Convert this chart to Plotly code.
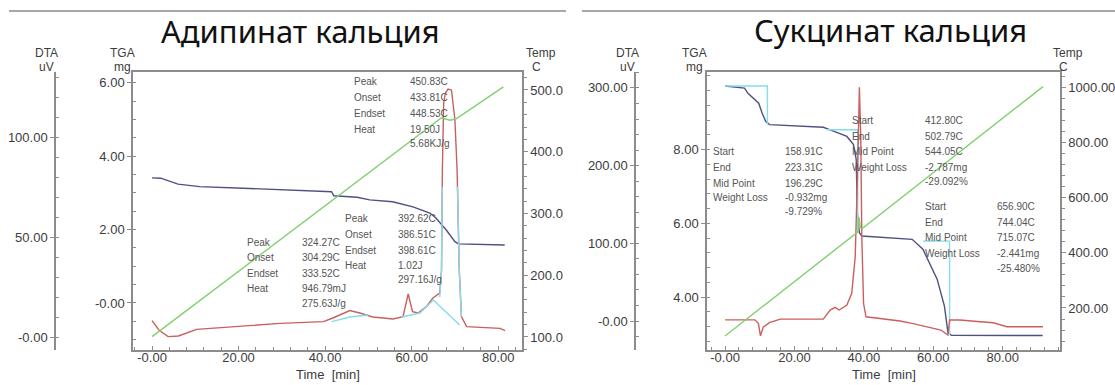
import plotly.graph_objects as go

W, H = 1115, 385

# ---------------- Calcium adipate (left panel) ----------------
adip_time_tga = [0, 2, 6, 11, 22.6, 41.5, 42, 47.4, 50.3, 55.6, 60.3, 64.2, 65.5, 68, 70, 70.8, 81.5]
adip_tga_mg = [3.41, 3.40, 3.24, 3.17, 3.12, 3.03, 2.92, 2.88, 2.81, 2.76, 2.62, 2.45, 2.33, 1.99, 1.67, 1.61, 1.58]

adip_time_dta = [0, 1.6, 3.7, 6.1, 10.3, 18.5, 29.6, 39.6, 41.8, 45.7, 48, 51, 55.7, 58, 59.2, 60.2,
                 61.5, 63.4, 64.9, 66.5, 66.9, 67.1, 67.4, 67.8, 68.4, 69.2, 70, 70.5, 71, 71.5, 72.7, 80.4, 81.6]
adip_dta_uv = [8.2, 3.5, 0.2, 0.5, 3.8, 5.2, 6.8, 7.7, 9.5, 13.2, 12, 10, 9, 10.2, 21.5, 12.7,
               12, 15.2, 19.5, 22, 33.5, 83.5, 117, 122, 124, 123.5, 108.5, 83.5, 33.5, 10.2, 5.2, 4.3, 3.2]

adip_time_temp = [0, 66.9, 68.8, 70.2, 81.2]
adip_temp_c = [100.5, 455, 451, 453, 505]

# peak integration baselines / peak flanks
adip_time_base = [41.5, 45.7, 50.0, None, 57.7, 61.9, 65.0, 71.1, None, 66.5, 66.9, 67.05, None, 70.6, 71.0, 71.5]
adip_base_uv = [7.7, 10.0, 11.0, None, 10.0, 12.0, 18.5, 6.0, None, 20, 33.5, 75, None, 75, 33.5, 10.2]

# ---------------- Calcium succinate (right panel) ----------------
succ_time_tga = [0, 5.6, 6.6, 9.7, 10.7, 11.7, 12.8, 16.9, 23, 28.3, 30.3, 35.1, 37, 37.8, 38.1, 38.7,
                 39.4, 50.4, 53.9, 57, 61.1, 63.2, 64.2, 65.2, 91.5]
succ_tga_mg = [9.73, 9.67, 9.53, 9.26, 8.99, 8.77, 8.68, 8.66, 8.64, 8.61, 8.54, 8.36, 8.14, 7.73, 6.29, 5.75,
               5.66, 5.60, 5.57, 5.30, 4.49, 3.76, 3.05, 2.97, 2.96]

succ_time_step = [0, 12.2, 12.2, None, 29.3, 38.2, 38.2, None, 57, 64.7, 64.7]
succ_step_mg = [9.73, 9.73, 8.68, None, 8.54, 8.54, 5.76, None, 5.52, 5.52, 2.97]

succ_time_dta = [0, 8.6, 9.6, 10.2, 11, 12.8, 15.9, 28.3, 30.3, 31.7, 32.9, 35.1, 36.5, 37.5, 38.2, 38.6,
                 38.7, 39.1, 39.4, 39.9, 40.6, 50.4, 53.9, 62.2, 64.2, 64.7, 67.7, 73.5, 77.3, 81.2, 91.6]
succ_dta_uv = [1.5, 1.5, -3, -19, -8, -2, 2.5, 2.5, 14, 17.6, 14.2, 20.6, 35.6, 82.8, 194, 297,
               301, 237, 108.5, 22.8, 5.5, 0, -3, -11.6, -18, 1.3, 1.3, -0.9, -2.2, -7.3, -7.3]

succ_time_temp = [0, 38.3, 38.6, 39.0, 39.6, 91.6]
succ_temp_c = [98.6, 476, 528, 490, 489, 1002]

# ---------------- tick labels ----------------
time_ticks = [0, 20, 40, 60, 80]
time_ticktext = ["-0.00", "20.00", "40.00", "60.00", "80.00"]
adip_tga_ticks = [0, 2, 4, 6]
adip_tga_ticktext = ["-0.00", "2.00", "4.00", "6.00"]
adip_dta_ticks = [0, 50, 100]
adip_dta_ticktext = ["-0.00", "50.00", "100.00"]
adip_temp_ticks = [100, 200, 300, 400, 500]
adip_temp_ticktext = ["100.0", "200.0", "300.0", "400.0", "500.0"]
succ_tga_ticks = [4, 6, 8]
succ_tga_ticktext = ["4.00", "6.00", "8.00"]
succ_dta_ticks = [0, 100, 200, 300]
succ_dta_ticktext = ["-0.00", "100.00", "200.00", "300.00"]
succ_temp_ticks = [200, 400, 600, 800, 1000]
succ_temp_ticktext = ["200.00", "400.00", "600.00", "800.00", "1000.00"]

# ---------------- result tables ----------------
adip_block_a = (["Peak", "Onset", "Endset", "Heat", ""], ["450.83C", "433.81C", "448.53C", "19.50J", "5.68KJ/g"])
adip_block_b = (["Peak", "Onset", "Endset", "Heat", ""], ["392.62C", "386.51C", "398.61C", "1.02J", "297.16J/g"])
adip_block_c = (["Peak", "Onset", "Endset", "Heat", ""], ["324.27C", "304.29C", "333.52C", "946.79mJ", "275.63J/g"])
succ_block_1 = (["Start", "End", "Mid Point", "Weight Loss", ""], ["158.91C", "223.31C", "196.29C", "-0.932mg", "-9.729%"])
succ_block_2 = (["Start", "End", "Mid Point", "Weight Loss", ""], ["412.80C", "502.79C", "544.05C", "-2.787mg", "-29.092%"])
succ_block_3 = (["Start", "End", "Mid Point", "Weight Loss", ""], ["656.90C", "744.04C", "715.07C", "-2.441mg", "-25.480%"])

# ---------------- styling ----------------
FONT = "Arial, Liberation Sans, sans-serif"
AX = "#8c8c8c"
TXT = "#3c3c3c"
C_TGA = "#4d5082"
C_DTA = "#c9605e"
C_TEMP = "#80d070"
C_BASE = "#86dcea"


def px(x):
    return x / W


def py(y):
    return 1 - y / H


fig = go.Figure()


def line(x, y, xa, ya, color, width=1.4):
    fig.add_trace(go.Scatter(x=x, y=y, xaxis=xa, yaxis=ya, mode="lines",
                             line=dict(color=color, width=width), connectgaps=False,
                             hoverinfo="skip", showlegend=False))


# left panel traces
line(adip_time_tga, adip_tga_mg, "x", "y", C_TGA)
line(adip_time_dta, adip_dta_uv, "x", "y2", C_DTA)
line(adip_time_base, adip_base_uv, "x", "y2", C_BASE)
line(adip_time_temp, adip_temp_c, "x", "y3", C_TEMP)

# right panel traces
line(succ_time_tga, succ_tga_mg, "x2", "y4", C_TGA)
line(succ_time_step, succ_step_mg, "x2", "y4", C_BASE)
line(succ_time_dta, succ_dta_uv, "x2", "y5", C_DTA)
line(succ_time_temp, succ_temp_c, "x2", "y6", C_TEMP)

tickfont = dict(family=FONT, size=13, color=TXT)
Y_DOM = [py(350), py(72)]


def axis(**kw):
    base = dict(showline=True, linecolor=AX, linewidth=1.5, ticks="outside", ticklen=4,
                tickcolor=AX, tickwidth=1.2, tickfont=tickfont, showgrid=False,
                zeroline=False, tickmode="array", fixedrange=True)
    base.update(kw)
    return base


def minor(dtick, tick0=0, ticks="outside", ticklen=3):
    return dict(tickmode="linear", tick0=tick0, dtick=dtick, ticks=ticks, ticklen=ticklen,
                tickcolor=AX, tickwidth=1, showgrid=False)


fig.update_layout(
    width=W, height=H, margin=dict(l=0, r=0, t=0, b=0),
    paper_bgcolor="white", plot_bgcolor="white",
    # ----- left panel axes -----
    xaxis=axis(domain=[px(133), px(522)], range=[-4.4, 85.5], anchor="y", mirror=True,
               ticks="inside", ticklabelstandoff=-5, tickvals=time_ticks, ticktext=time_ticktext,
               minor=minor(4, ticks="inside")),
    yaxis=axis(domain=Y_DOM, range=[-1.281, 6.294], anchor="x", side="left",
               tickvals=adip_tga_ticks, ticktext=adip_tga_ticktext,
               minor=minor(0.5, ticks="inside")),
    yaxis2=axis(domain=Y_DOM, range=[-6.5, 132.5], overlaying="y", anchor="free",
                position=px(55), side="left", tickvals=adip_dta_ticks,
                ticktext=adip_dta_ticktext, minor=minor(10, ticks="inside")),
    yaxis3=axis(domain=Y_DOM, range=[78.9, 529.1], overlaying="y", anchor="x", side="right",
                tickvals=adip_temp_ticks, ticktext=adip_temp_ticktext, minor=minor(20)),
    # ----- right panel axes -----
    xaxis2=axis(domain=[px(707), px(1060)], range=[-5.2, 96.5], anchor="y4", mirror=True,
                ticks="inside", ticklabelstandoff=-5, tickvals=time_ticks, ticktext=time_ticktext,
                minor=minor(4, ticks="inside")),
    yaxis4=axis(domain=Y_DOM, range=[2.568, 10.108], anchor="x2", side="left",
                tickvals=succ_tga_ticks, ticktext=succ_tga_ticktext,
                minor=minor(0.4, ticks="inside")),
    yaxis5=axis(domain=Y_DOM, range=[-37.3, 320.5], overlaying="y4", anchor="free",
                position=px(635), side="left", tickvals=succ_dta_ticks,
                ticktext=succ_dta_ticktext, minor=minor(20, ticks="inside")),
    yaxis6=axis(domain=Y_DOM, range=[47.8, 1055], overlaying="y4", anchor="x2", side="right",
                tickvals=succ_temp_ticks, ticktext=succ_temp_ticktext, minor=minor(40)),
)

ann = []


def text(x, y, s, size=10, anchor="left", color="#555555", family=FONT):
    ann.append(dict(x=px(x), y=py(y), xref="paper", yref="paper", text=s, showarrow=False,
                    xanchor=anchor, yanchor="middle", font=dict(family=family, size=size, color=color)))


# panel titles
TITLE_FONT = "Noto Sans, Open Sans, sans-serif"
text(300, 31, "Адипинат кальция", size=31, anchor="center", color="#111111", family=TITLE_FONT)
text(890, 30, "Сукцинат кальция", size=31, anchor="center", color="#111111", family=TITLE_FONT)

# axis headers
for cx, top, bottom in [(46, "DTA", "uV"), (122, "TGA", "mg"), (541, "Temp", "C"),
                        (627, "DTA", "uV"), (694, "TGA", "mg"), (1068, "Temp", "C")]:
    text(cx, 53, top, size=12, anchor="center", color=TXT)
    text(cx if top != "Temp" else cx - 5, 67, bottom, size=12, anchor="center", color=TXT)

# time axis titles
text(328, 374, "Time  [min]", size=13, anchor="center", color=TXT)
text(884, 374, "Time  [min]", size=13, anchor="center", color=TXT)


def block(data, xl, xv, ys):
    labels, values = data
    for lab, val, yy in zip(labels, values, ys):
        if lab:
            text(xl, yy, lab)
        text(xv, yy, val)


block(adip_block_a, 352, 408, [82, 98, 113, 129, 143])
block(adip_block_b, 343, 396, [218, 234, 250, 265, 279])
block(adip_block_c, 245, 300, [242, 257, 273, 288, 303])
block(succ_block_1, 711, 783, [151, 167, 183, 198, 212])
block(succ_block_2, 850, 923, [120, 136, 151, 167, 182])
block(succ_block_3, 923, 995, [207, 222, 237, 253, 268])

fig.update_layout(annotations=ann)

# rules above the two panels
for x0, x1 in [(9, 566), (582, 1115)]:
    fig.add_shape(type="line", xref="paper", yref="paper", x0=px(x0), x1=px(x1), y0=py(11), y1=py(11),
                  line=dict(color="#8a8a8a", width=1.5))

fig.write_html("out.html")
